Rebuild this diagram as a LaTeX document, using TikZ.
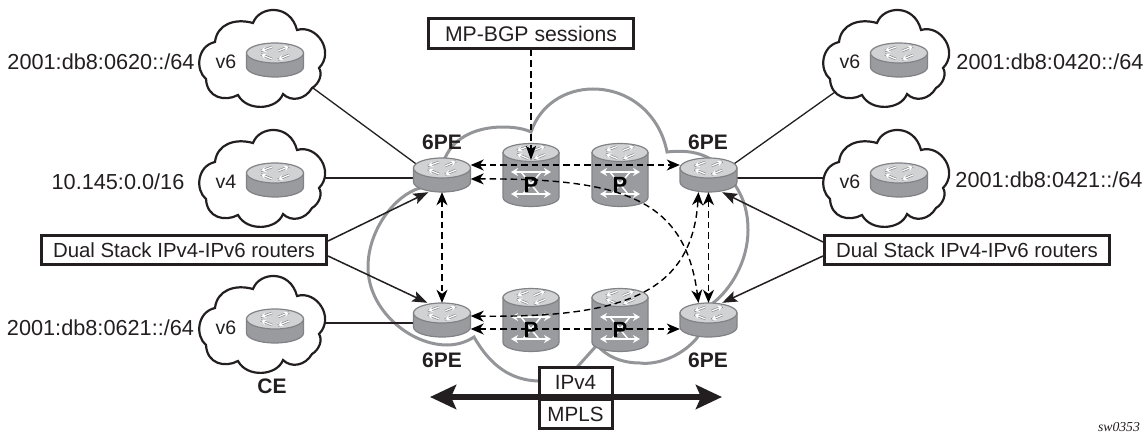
\documentclass[tikz,border=0pt]{standalone}
\usepackage{fontspec}
\usepackage{tikz}
\usetikzlibrary{arrows.meta, positioning}
\setmainfont{Liberation Sans}
\newfontfamily\tagfont{Liberation Serif}

\definecolor{inkblack}{HTML}{231F20}
\definecolor{routertop}{HTML}{D1D2D4}
\definecolor{routerside}{HTML}{9A9B9E}
\definecolor{routerline}{HTML}{808285}
\definecolor{mplsgray}{HTML}{939598}

\tikzset{
    toparrows/.pic={
        \foreach \ax/\ay/\bx/\by in {-3/-6/-14/-2, 3/-2/14/-6.5, -3/6/-14/1.5, 14/2/3/6.5} {
            \draw[routerline, line width=2.4pt] (\ax,\ay) -- (\bx,\by);
            \draw[white, line width=1.2pt, -{Stealth[length=5pt,width=5.5pt]}] (\ax,\ay) -- (\bx,\by);
        }
    },
    flatrouter/.pic={
        \draw[routerline, fill=routerside, line width=1.2pt] (-28.5,-7) -- (-28.5,7)
            arc[start angle=180, end angle=360, x radius=28.5pt, y radius=10pt] -- (28.5,-7) -- cycle;
        \draw[routerline, fill=routertop, line width=1.2pt] (0,-7) ellipse [x radius=28.5pt, y radius=10pt];
        \pic at (0,-7) {toparrows};
    },
    prouter/.pic={
        \draw[routerline, fill=routerside, line width=1.2pt] (-28,-22.5) -- (-28,22.5)
            arc[start angle=180, end angle=360, x radius=28pt, y radius=9pt] -- (28,-22.5) -- cycle;
        \draw[routerline, fill=routertop, line width=1.2pt] (0,-22.5) ellipse [x radius=28pt, y radius=9pt];
        \pic at (0,-22.5) {toparrows};
        \draw[white, line width=1.5pt, {Stealth[length=7pt,width=8pt]}-{Stealth[length=7pt,width=8pt]}] (-20,-3) -- (20,-3);
        \draw[white, line width=1.5pt, {Stealth[length=7pt,width=8pt]}-{Stealth[length=7pt,width=8pt]}] (-20,19) -- (20,19);
        \draw[white, line width=1.5pt] (-10,-3) -- (8,19) (10,-3) -- (-8,19);
        \node[font=\fontsize{22}{24}\selectfont\bfseries, text=black] at (0,10) {P};
    },
    cecloud/.pic={
        \draw[inkblack, fill=white, line width=2.2pt] (-69,19)
            .. controls (-80,10) and (-78,-14) .. (-60,-18)
            .. controls (-58,-36) and (-40,-42) .. (-22,-37)
            .. controls (-16,-54) and (15,-57) .. (22,-30)
            .. controls (42,-36) and (60,-8) .. (44,8)
            .. controls (48,14) and (44,24) .. (37,28)
            .. controls (30,40) and (16,42) .. (8,34)
            .. controls (2,50) and (-28,52) .. (-37,35)
            .. controls (-50,42) and (-68,38) .. cycle;
        \pic at (0,0) {flatrouter};
    },
    anchorbox/.style={minimum width=57pt, minimum height=34pt, inner sep=0pt},
    addr/.style={font=\fontsize{21.7}{24}\selectfont, text=inkblack, inner sep=0pt},
    site/.style={font=\fontsize{19.5}{22}\selectfont, text=inkblack, inner sep=0pt},
    role/.style={font=\fontsize{21}{24}\selectfont\bfseries, text=inkblack, inner sep=0pt},
    infobox/.style={draw=inkblack, fill=white, line width=3pt, inner sep=0pt, text=inkblack},
    link/.style={inkblack, line width=1.3pt},
    pointer/.style={inkblack, line width=1.5pt, -{Stealth[length=15pt,width=11pt,inset=3pt]}},
    session/.style={black, line width=1.4pt, dash pattern=on 6.5pt off 4pt,
        {Stealth[length=13pt,width=11pt,inset=4pt]}-{Stealth[length=13pt,width=11pt,inset=4pt]}},
}

\begin{document}
\begin{tikzpicture}[x=1pt,y=-1pt]
    \useasboundingbox (0,0) rectangle (1145,436);

    \node[anchorbox] (peNW) at (442,175) {};
    \node[anchorbox] (peNE) at (708.5,175) {};
    \node[anchorbox] (peSW) at (442,320) {};
    \node[anchorbox] (peSE) at (708.5,320) {};
    \node[anchorbox] (ceNW) at (275,60) {};
    \node[anchorbox] (ceW) at (275,180) {};
    \node[anchorbox] (ceSW) at (275,326) {};
    \node[anchorbox] (ceNE) at (899,60) {};
    \node[anchorbox] (ceE) at (899,180) {};
    \node[anchorbox] (pNA) at (531,175) {};
    \node[anchorbox] (pNB) at (620,175) {};
    \node[anchorbox] (pSA) at (531,320) {};
    \node[anchorbox] (pSB) at (620,320) {};

    % provider cloud
    \draw[mplsgray, line width=3pt] (445,158)
        .. controls (455,135) and (480,127) .. (503,127)
        .. controls (515,127) and (525,129) .. (531,132)
        .. controls (540,105) and (565,89) .. (593,89)
        .. controls (630,89) and (660,115) .. (667,152)
        .. controls (685,150) and (700,152) .. (712,160)
        -- (735,185)
        .. controls (745,200) and (748,215) .. (748,230)
        .. controls (748,262) and (730,290) .. (713,303)
        -- (697,338)
        .. controls (680,358) and (655,365) .. (640,363)
        .. controls (620,363) and (605,355) .. (597,345)
        -- (570,375) -- (538,381)
        .. controls (510,380) and (490,365) .. (474,337)
        .. controls (465,343) and (455,345) .. (447,345)
        .. controls (410,345) and (368,310) .. (368,267)
        .. controls (368,230) and (395,195) .. (420,188)
        -- cycle;

    \draw[link] ([yshift=-8pt]peNW.center) -- (ceNW.center);
    \draw[link] ([yshift=-3pt]peNW.center) -- ([yshift=2pt]ceW.center);
    \draw[link] ([yshift=-3pt]peSW.center) -- ([yshift=3pt]ceSW.center);
    \draw[link] ([yshift=-7pt]peNE.center) -- ([xshift=-19pt]ceNE.center);
    \draw[link] ([yshift=-3pt]peNE.center) -- ([yshift=2pt]ceE.center);

    \foreach \n in {ceNW,ceW,ceSW,ceNE,ceE}
        \pic at (\n) {cecloud};
    \foreach \n in {peNW,peNE,peSW,peSE}
        \pic at (\n) {flatrouter};
    \foreach \n in {pNA,pNB,pSA,pSB}
        \pic at (\n) {prouter};

    \node[site] (vNW) at (226,62) {v6};
    \node[site] (vW) at (226,182) {v4};
    \node[site] (vSW) at (226,328) {v6};
    \node[site] (vNE) at (850,62) {v6};
    \node[site] (vE) at (850,182) {v6};

    \node[addr] (addrNW) at (101,62) {2001:db8:0620::/64};
    \node[addr] (addrW) at (118,182) {10.145:0.0/16};
    \node[addr] (addrSW) at (100.5,328) {2001:db8:0621::/64};
    \node[addr] (addrNE) at (1050,62) {2001:db8:0420::/64};
    \node[addr] (addrE) at (1049,180) {2001:db8:0421::/64};

    \node[role] at (442,142) {6PE};
    \node[role] at (708,142) {6PE};
    \node[role] at (442,360) {6PE};
    \node[role] at (708,360) {6PE};
    \node[role] at (272,386) {CE};

    \node[infobox, font=\fontsize{20.4}{24}\selectfont, minimum width=285pt, minimum height=29pt] (dualL) at (184,250) {Dual Stack IPv4-IPv6 routers};
    \node[infobox, font=\fontsize{20.4}{24}\selectfont, minimum width=285pt, minimum height=29pt] (dualR) at (967,250) {Dual Stack IPv4-IPv6 routers};
    \node[infobox, font=\fontsize{21.2}{24}\selectfont, minimum width=205pt, minimum height=30pt] (bgp) at (531,33.5) {MP-BGP sessions};
    \node[infobox, font=\fontsize{20.6}{24}\selectfont, minimum width=73pt, minimum height=29pt] (ipv4) at (575.5,382) {IPv4};
    \node[infobox, font=\fontsize{20.6}{24}\selectfont, minimum width=73pt, minimum height=29pt, below=0pt of ipv4] (mpls) {MPLS};

    \draw[pointer] ([yshift=9pt]dualL.east) -- ([xshift=15pt]peNW.south west);
    \draw[pointer] ([yshift=-6pt]dualL.east) -- ([xshift=14pt]peSW.north west);
    \draw[pointer] ([yshift=8pt]dualR.west) -- ([xshift=-15pt]peNE.south east);
    \draw[pointer] ([yshift=-6pt]dualR.west) -- ([xshift=-15pt]peSE.north east);

    \draw[session] ([yshift=10pt]peNW.east) -- ([yshift=10pt]peNE.west);
    \draw[session] ([yshift=-9pt]peSW.east) -- ([yshift=-9pt]peSE.west);
    \draw[session] (peNW.south) -- (peSW.north);
    \draw[session] (peNE.south) -- (peSE.north);
    \draw[session] ([yshift=-4pt]peNW.east) .. controls (625,178) and (685,200) .. ([xshift=-10pt]peSE.north);
    \draw[session] ([yshift=4pt]peSW.east) .. controls (620,318) and (692,295) .. ([xshift=-10pt]peNE.south);
    \draw[black, line width=1.4pt, dash pattern=on 6.5pt off 4pt, -{Stealth[length=14pt,width=10pt,inset=3pt]}] (bgp.south) -- ([yshift=15pt]pNA.center);

    \coordinate (spanL) at (430,397);
    \coordinate (spanR) at (722,397);
    \draw[inkblack, line width=5.5pt, {Stealth[length=26pt,width=24pt,inset=5pt]}-{Stealth[length=26pt,width=24pt,inset=5pt]}] (spanL) -- (spanR);

    \node[font=\fontsize{13.7}{15}\selectfont\tagfont\itshape, text=inkblack, inner sep=0pt] (figtag) at (1119,427) {sw0353};
\end{tikzpicture}
\end{document}
